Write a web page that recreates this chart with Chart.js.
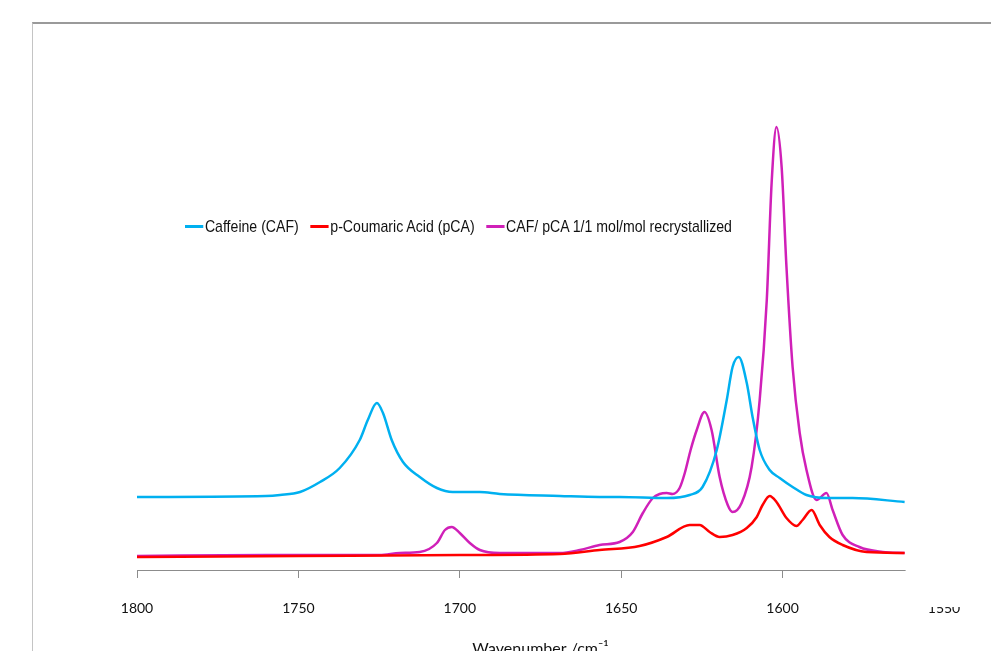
<!DOCTYPE html>
<html>
<head>
<meta charset="utf-8">
<script src="https://cdn.jsdelivr.net/npm/chart.js@4/dist/chart.umd.min.js"></script>
<style>
  html, body { margin: 0; padding: 0; background: #fff; overflow: hidden; width: 991px; height: 651px; }
  #frame { position: absolute; left: 32px; top: 22px; width: 1000px; height: 700px;
           border-left: 1px solid #c4c4c4; border-top: 2px solid #9a9a9a; }
  #chart { position: absolute; left: 0; top: 0; }
  #legend { position: absolute; left: 185px; top: 217px; font-family: "Liberation Sans", Arial, sans-serif;
            font-size: 17px; color: #111; white-space: nowrap; transform: scaleX(0.83); transform-origin: 0 0; }
  #legend span.item { margin-right: 14px; }
  #legend span.swatch { display: inline-block; width: 22px; height: 3px; vertical-align: middle; margin-right: 2px; position: relative; top: -1px; }
</style>
</head>
<body>
<div id="frame"></div>
<canvas id="chart" width="991" height="658"></canvas>
<div id="legend"></div>
<script>
// wavenumber (cm-1) / intensity pairs
const cafX = [1800, 1760.1, 1755.7, 1749.5, 1743.3, 1737.2, 1731.0, 1728.5, 1725.7, 1723.8, 1721.1, 1717.6, 1712.4, 1707.1, 1702.2, 1693.8, 1687.6, 1669.0, 1656.7, 1650.5, 1635.9, 1628.8, 1624.8, 1620.4, 1617.3, 1615.5, 1613.6, 1611.1, 1609.3, 1607.1, 1604.0, 1600.9, 1596.9, 1592.6, 1586.4, 1578.3, 1562.2];
const cafY = [73, 74, 75, 78, 88, 102, 130, 150, 167, 157, 130, 108, 93, 82, 78, 78, 76, 74, 73, 73, 72, 75, 83, 120, 170, 203, 213, 187, 153, 120, 100, 92, 83, 75, 72, 72, 68];

const pcaX = [1800, 1750, 1700, 1669.0, 1656.7, 1644.3, 1635.9, 1628.8, 1625.7, 1622.6, 1619.5, 1615.5, 1611.1, 1608.0, 1606.2, 1604.0, 1601.9, 1598.8, 1595.7, 1593.8, 1591.0, 1588.5, 1585.5, 1581.4, 1574.0, 1562.2];
const pcaY = [13, 14, 15, 16, 20, 24, 33, 45, 45, 38, 33, 35, 42, 53, 65, 74, 68, 52, 44, 50, 60, 45, 33, 25, 18, 17];

const mixX = [1800, 1760, 1724.8, 1718.6, 1712.4, 1707.1, 1704.6, 1702.5, 1700.0, 1696.9, 1693.8, 1687.6, 1669.0, 1662.8, 1656.7, 1650.5, 1646.4, 1643.3, 1640.2, 1638.1, 1635.9, 1634.1, 1631.9, 1630.3, 1628.5, 1626.6, 1624.2, 1622.0, 1619.5, 1617.0, 1615.5, 1612.7, 1609.6, 1607.1, 1604.9, 1603.4, 1601.9, 1600.3, 1598.8, 1596.9, 1594.7, 1592.6, 1589.5, 1586.4, 1584.5, 1581.4, 1576.2, 1569.0, 1562.2];
const mixY = [14, 15, 15, 17, 18, 27, 40, 43, 37, 27, 20, 17, 17, 20, 25, 28, 38, 57, 72, 76, 77, 76, 82, 97, 120, 140, 158, 140, 93, 65, 58, 67, 103, 170, 270, 387, 443, 403, 303, 203, 137, 100, 70, 77, 60, 35, 23, 18, 17];

const seriesNames = ["Caffeine (CAF)", "p-Coumaric Acid (pCA)", "CAF/ pCA 1/1 mol/mol recrystallized"];
const seriesColors = ["#00b0f0", "#ff0000", "#d020b8"];
const xTicks = [1800, 1750, 1700, 1650, 1600, 1550];

const toPoints = (xs, ys) => xs.map((x, i) => ({ x: x, y: ys[i] }));

const datasets = [
  { label: seriesNames[0], data: toPoints(cafX, cafY), borderColor: seriesColors[0] },
  { label: seriesNames[1], data: toPoints(pcaX, pcaY), borderColor: seriesColors[1] },
  { label: seriesNames[2], data: toPoints(mixX, mixY), borderColor: seriesColors[2] },
].map(d => Object.assign(d, { borderWidth: 2.5, pointRadius: 0, cubicInterpolationMode: "monotone", fill: false }));

// the source picture is cropped where the spectra end: hide the axis past that point
const cropPlugin = {
  id: "crop",
  afterDraw(chart) {
    const x = chart.scales.x;
    const ctx = chart.ctx;
    const edge = x.getPixelForValue(cafX[cafX.length - 1]) + 1;
    ctx.save();
    ctx.fillStyle = "#fff";
    ctx.fillRect(edge, chart.chartArea.bottom - 3, chart.width - edge, 40);
    ctx.restore();
  },
};

new Chart(document.getElementById("chart"), {
  type: "line",
  data: { datasets: datasets },
  options: {
    responsive: false,
    animation: false,
    layout: { padding: { left: 137, right: 47, top: 70, bottom: 0 } },
    scales: {
      x: {
        type: "linear",
        reverse: true,
        min: 1550,
        max: 1800,
        afterBuildTicks: (scale) => { scale.ticks = xTicks.map(v => ({ value: v })); },
        grid: { drawOnChartArea: false, drawTicks: true, tickLength: 8, color: "#8c8c8c" },
        border: { display: true, color: "#8c8c8c", width: 1 },
        ticks: { color: "#111", font: { family: "Lato, sans-serif", size: 14 }, padding: 22, maxRotation: 0,
                 callback: (v) => String(v) },
        title: { display: true, text: "Wavenumber /cm\u207b\u00b9", color: "#111",
                 font: { family: "Lato, sans-serif", size: 16 }, padding: { top: 0, bottom: 0 } },
      },
      y: { display: false, min: 0, max: 500 },
    },
    plugins: { legend: { display: false }, tooltip: { enabled: false } },
  },
  plugins: [cropPlugin],
});

// legend as real text
const legend = document.getElementById("legend");
seriesNames.forEach((name, i) => {
  const item = document.createElement("span");
  item.className = "item";
  const sw = document.createElement("span");
  sw.className = "swatch";
  sw.style.background = seriesColors[i];
  item.appendChild(sw);
  item.appendChild(document.createTextNode(name));
  legend.appendChild(item);
});
</script>
</body>
</html>
